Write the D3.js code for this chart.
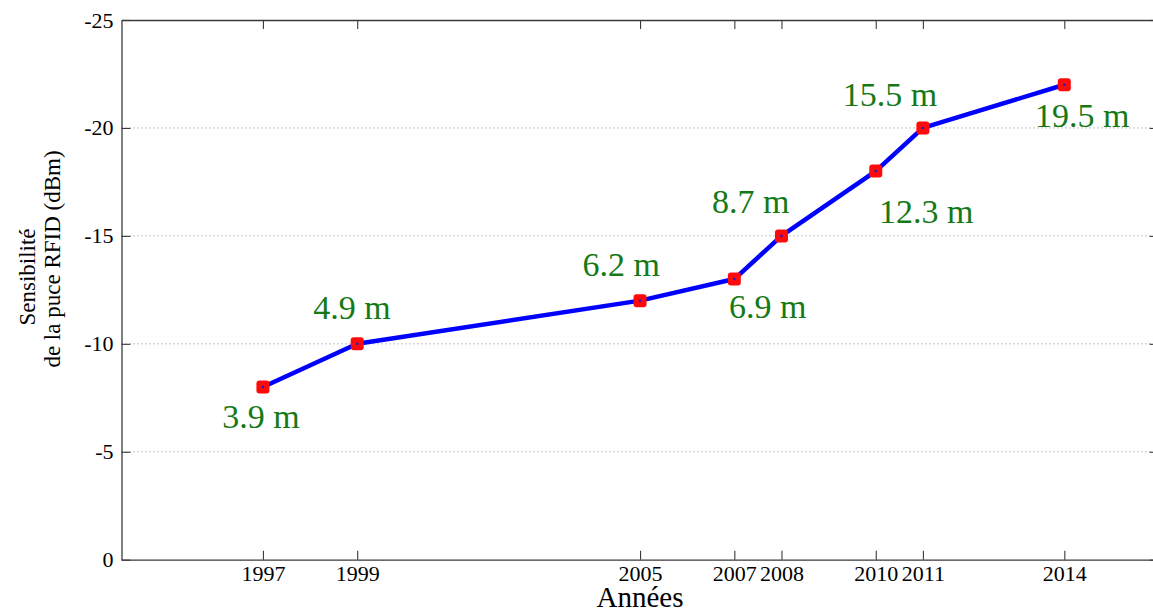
<!DOCTYPE html>
<html><head><meta charset="utf-8">
<script src="https://cdn.jsdelivr.net/npm/d3@7"></script>
<style>
html,body{margin:0;padding:0;background:#fff;overflow:hidden;}
svg{display:block;font-family:"Liberation Serif","Times New Roman",serif;}
</style></head>
<body>
<svg id="chart" width="1153" height="614"></svg>
<script>
// Data
const years = [1997, 1999, 2005, 2007, 2008, 2010, 2011, 2014];
const sensitivity = [-8, -10, -12, -13, -15, -18, -20, -22];
const rangeLabels = ["3.9 m", "4.9 m", "6.2 m", "6.9 m", "8.7 m", "12.3 m", "15.5 m", "19.5 m"];
// label anchor positions in data units (year, dBm) like MATLAB text()
const labelYears = [1996.96, 1998.89, 2004.60, 2007.71, 2007.35, 2011.07, 2010.30, 2014.38];
const labelValues = [-6.10, -11.15, -13.14, -11.20, -16.06, -15.60, -21.01, -20.04];
const xTickValues = [1997, 1999, 2005, 2007, 2008, 2010, 2011, 2014];
const yTickValues = [0, -5, -10, -15, -20, -25];
const gridValues = [-5, -10, -15, -20];
const xDomain = [1994, 2016];
const yDomain = [0, -25];

const svg = d3.select("#chart");
const L = 121.5, T = 20, B = 559.7, R = 1158.6;
const x = d3.scaleLinear().domain(xDomain).range([L, R]);
const y = d3.scaleLinear().domain(yDomain).range([B, T]);
const axisColor = "#3a3a3a";
const fmt = d => String(d);

// grid
svg.append("g").selectAll("line").data(gridValues).join("line")
  .attr("x1", L).attr("x2", R).attr("y1", d => y(d)).attr("y2", d => y(d))
  .attr("stroke", "#8a8a8a").attr("stroke-width", 1).attr("stroke-dasharray", "1,3");

// axes (inward ticks)
const tickLen = 9;
const xb = svg.append("g").attr("transform", `translate(0,${B})`)
  .call(d3.axisBottom(x).tickValues(xTickValues).tickFormat(fmt).tickSizeInner(-tickLen).tickSizeOuter(0).tickPadding(6));
const xt = svg.append("g").attr("transform", `translate(0,${T})`)
  .call(d3.axisTop(x).tickValues(xTickValues).tickFormat("").tickSizeInner(-tickLen).tickSizeOuter(0));
const yl = svg.append("g").attr("transform", `translate(${L},0)`)
  .call(d3.axisLeft(y).tickValues(yTickValues).tickFormat(fmt).tickSizeInner(-tickLen).tickSizeOuter(0).tickPadding(8));
const yr = svg.append("g").attr("transform", `translate(${R},0)`)
  .call(d3.axisRight(y).tickValues(yTickValues).tickFormat("").tickSizeInner(-tickLen).tickSizeOuter(0));
[xb, xt, yl, yr].forEach(g => {
  g.select(".domain").attr("stroke", axisColor).attr("stroke-width", 1.3);
  g.selectAll(".tick line").attr("stroke", axisColor).attr("stroke-width", 1.1);
  g.selectAll(".tick text").attr("fill", "#000").attr("font-size", 22)
   .attr("font-family", "Liberation Serif, Times New Roman, serif");
});
xb.selectAll(".tick text").attr("dy", "0.71em");

// line
const line = d3.line().x((d, i) => x(years[i])).y(d => y(d));
svg.append("path").datum(sensitivity)
  .attr("d", line).attr("fill", "none").attr("stroke", "#0000ff")
  .attr("stroke-width", 4.5).attr("stroke-linejoin", "round");

// markers
const ms = 13;
svg.append("g").selectAll("rect").data(sensitivity).join("rect")
  .attr("x", (d, i) => x(years[i]) - ms / 2).attr("y", d => y(d) - ms / 2)
  .attr("width", ms).attr("height", ms).attr("rx", 3)
  .attr("fill", "#ff0a0a");
svg.append("g").selectAll("circle").data(sensitivity).join("circle")
  .attr("cx", (d, i) => x(years[i])).attr("cy", d => y(d)).attr("r", 1.3)
  .attr("fill", "#2020c0");

// range labels
svg.append("g").selectAll("text").data(rangeLabels).join("text")
  .attr("x", (d, i) => x(labelYears[i])).attr("y", (d, i) => y(labelValues[i]))
  .attr("text-anchor", "middle").attr("font-size", 34).attr("fill", "#157a15")
  .text(d => d);

// axis titles
svg.append("text").attr("x", 640).attr("y", 607).attr("text-anchor", "middle")
  .attr("font-size", 29).attr("fill", "#000").text("Années");
svg.append("text").attr("transform", "translate(35,277) rotate(-90)")
  .attr("text-anchor", "middle").attr("font-size", 23).attr("fill", "#000").text("Sensibilité");
svg.append("text").attr("transform", "translate(60,259) rotate(-90)")
  .attr("text-anchor", "middle").attr("font-size", 23).attr("fill", "#000").text("de la puce RFID (dBm)");
</script>
</body></html>
